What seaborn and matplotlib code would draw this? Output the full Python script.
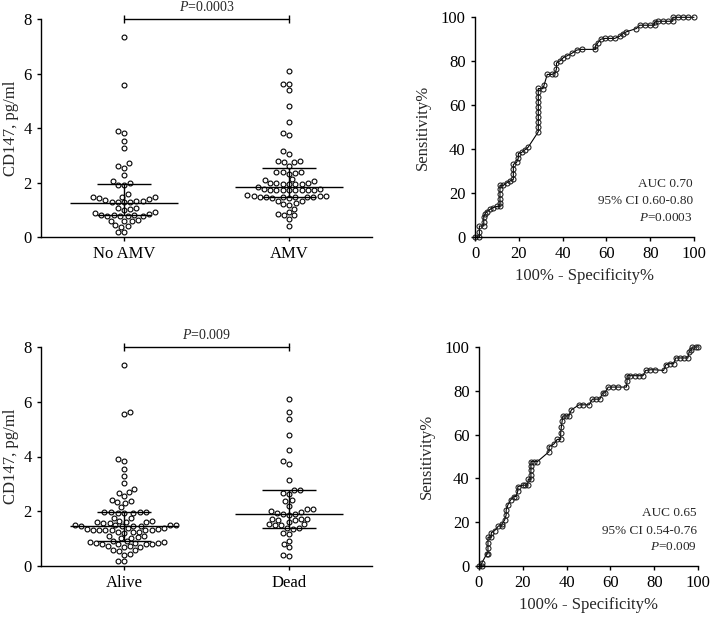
import numpy as np
import pandas as pd
import matplotlib
matplotlib.use("Agg")
import matplotlib.pyplot as plt
import seaborn as sns

# ---------------- data ----------------
cats_top = ["No AMV", "AMV"]
no_amv = [7.35, 5.57, 3.89, 3.81, 3.52, 3.27, 2.70, 2.60, 2.55, 2.27, 2.06,
          1.99, 1.92, 1.90, 1.56, 1.48,
          1.48, 1.42, 1.38, 1.33, 1.30, 1.27, 1.28, 1.30, 1.32, 1.35, 1.46,
          1.07, 1.01, 0.99, 1.05,
          0.90, 0.84, 0.82, 0.81, 0.78, 0.76, 0.76, 0.78, 0.80, 0.88,
          0.62, 0.57, 0.60, 0.60, 0.45, 0.42, 0.38, 0.18, 0.18]
amv = [6.10, 5.62, 5.62, 5.40, 4.79, 4.22, 3.83, 3.75, 3.14, 3.04,
       2.80, 2.78, 2.76, 2.74, 2.62,
       2.40, 2.40, 2.38, 2.35, 2.32,
       2.14, 2.10, 2.06,
       2.00, 1.97, 1.96, 1.95, 1.95, 1.96, 1.99,
       1.83,
       1.75, 1.73, 1.72, 1.71, 1.71, 1.71, 1.71, 1.72, 1.73, 1.75,
       1.52, 1.52, 1.48, 1.45, 1.45, 1.44, 1.44, 1.45, 1.46, 1.46, 1.49, 1.53,
       1.33, 1.25, 1.21, 1.33,
       1.04, 1.16,
       0.85, 0.79, 0.67, 0.79, 0.92,
       0.42]
median_top = [1.25, 1.85]
q1_top = [0.80, 1.45]
q3_top = [1.96, 2.52]
p_top = "0.0003"

cats_bot = ["Alive", "Dead"]
alive = [7.35, 5.63, 5.57, 3.91, 3.82, 3.54, 3.30, 3.05, 2.81, 2.72, 2.68, 2.57,
         2.42, 2.36, 2.32, 2.30, 2.14,
         1.99, 1.96, 1.95, 1.95, 1.95, 1.96, 1.99,
         1.77, 1.75,
         1.64, 1.60, 1.58, 1.58, 1.60, 1.62, 1.66,
         1.48, 1.48, 1.47, 1.47, 1.46, 1.48, 1.48, 1.47,
         1.40, 1.36, 1.33, 1.31, 1.30, 1.30, 1.31, 1.33, 1.36, 1.40,
         1.25, 1.24, 1.26, 1.22,
         1.08, 1.04, 1.02, 1.05, 1.08,
         0.90, 0.86, 0.84, 0.82, 0.82, 0.80, 0.82, 0.84, 0.84, 0.86, 0.90,
         0.72, 0.70, 0.70, 0.74,
         0.58, 0.55, 0.60,
         0.42, 0.44,
         0.20, 0.20]
dead = [6.10, 5.61, 5.38, 4.79, 4.22, 3.83, 3.73, 3.13,
        2.79, 2.77, 2.68, 2.62,
        2.40, 2.39,
        2.21, 2.07, 2.07, 2.02,
        1.96, 1.93, 1.90, 1.87, 1.90,
        1.72, 1.70, 1.68, 1.68, 1.72, 1.62,
        1.52, 1.50, 1.53, 1.48,
        1.38, 1.40, 1.35,
        1.22, 1.18,
        0.93, 0.79, 0.68,
        0.41, 0.37]
median_bot = [1.47, 1.90]
q1_bot = [0.90, 1.40]
q3_bot = [1.98, 2.76]
p_bot = "0.009"

roc1_fpr = [0, 2, 2, 2, 4, 4, 4, 4.6, 5.4, 6.9, 8.4, 9.9, 11.4, 11.4, 11.4, 11.4, 11.4, 11.4,
            13, 14.5, 16, 17.5, 17.5, 17.5, 17.5, 19, 19.8, 19.8, 21.3, 22.8, 24.3,
            28.9, 28.9, 28.9, 28.9, 28.9, 28.9, 28.9, 28.9, 28.9, 28.9,
            31, 31.5, 33, 35, 36.5, 37.2, 37.2, 39, 40.4, 41.9, 44.2, 46.5, 48.7,
            55, 55, 56.2, 57.4, 59.2, 61.5, 63.8, 66.1, 67.6, 69.1, 73.7,
            75.2, 77.4, 79.7, 82, 82, 83.5, 85.7, 88, 90.3, 90.3, 92.6, 94.8, 97.1, 100]
roc1_tpr = [0, 0, 2.4, 5, 5, 7, 9.3, 10.5, 11.6, 12.6, 13.4, 13.9, 13.9, 15.7, 17.5, 19.4, 21.7, 23.5,
            23.5, 24.7, 25.5, 26.2, 28.5, 30.8, 33, 34, 36, 38, 38.5, 39.7, 40.9,
            47.9, 50.2, 52.5, 54.7, 57, 59.3, 61.5, 63.8, 66.1, 67.6,
            67.5, 69, 74, 74, 74.4, 76.5, 79.2, 80.3, 81.7, 82.4, 83.6, 85.1, 85.4,
            85.4, 87, 88.5, 90, 90.4, 90.4, 90.4, 91.4, 92.6, 93.4, 94.9,
            96.4, 96.4, 96.4, 96.4, 97.9, 98.2, 98.2, 98.2, 98.2, 100, 100, 100, 100, 100]
roc1_text = ["AUC 0.70", "95% CI 0.60-0.80", "0.0003"]

roc2_fpr = [0, 1.2, 1.2, 3.5, 4.1, 4.1, 4.1, 4.1, 5.6, 5.6, 7.1, 8.9, 10.5, 10.5, 11.7, 12.4, 12.4,
            13.2, 14.4, 15.9, 16.9, 17.7, 17.7, 20, 21.1, 22.2, 22.5, 23.7, 23.7, 23.7, 23.7, 23.7,
            24.9, 26.7, 32, 32, 34.2, 35.7, 37.3, 37.3, 37.6, 38, 38.3, 39.5, 41, 42.2,
            45.7, 47.6, 50.3, 51.8, 53.6, 55.2, 56.4, 57.4, 59, 61.2, 63.5, 67.3, 67.6, 67.6,
            69.1, 71.1, 73.1, 74.9, 76.1, 78.3, 80.2, 84.3, 85.3, 87.1, 88.9, 89.8, 91.6, 93.5,
            95.4, 95.9, 97, 97.4, 98.9, 100]
roc2_tpr = [0, 0, 1.2, 5.5, 5.5, 8.1, 10.4, 13.1, 13.1, 15.2, 16.1, 18.3, 18.3, 19.2, 21, 23.3, 25.6,
            27.9, 30.1, 31.7, 31.7, 34.2, 36.2, 36.9, 36.9, 36.9, 39.6, 39.6, 41.6, 43.8, 45.7, 47.7,
            47.7, 47.7, 52.2, 54.5, 55.7, 57.8, 57.8, 60.6, 63.6, 66.4, 68.5, 68.5, 68.5, 71.3,
            73.6, 73.6, 73.6, 76.2, 76.2, 76.2, 79, 79, 81.7, 81.7, 81.7, 81.7, 84.3, 86.9,
            86.9, 86.9, 86.9, 86.9, 89.3, 89.6, 89.6, 89.3, 91.9, 92.4, 92.4, 95, 95, 95,
            95, 97.6, 98.8, 100, 100, 100]
roc2_text = ["AUC 0.65", "95% CI 0.54-0.76", "0.009"]

# ---------------- style ----------------
sns.set_style("ticks")
plt.rcParams["font.family"] = ["Liberation Serif", "DejaVu Serif"]
plt.rcParams["mathtext.fontset"] = "custom"
plt.rcParams["mathtext.it"] = "Liberation Serif:italic"
plt.rcParams["mathtext.rm"] = "Liberation Serif"
plt.rcParams["axes.linewidth"] = 1.0
plt.rcParams["xtick.major.width"] = 1.0
plt.rcParams["ytick.major.width"] = 1.0
plt.rcParams["xtick.major.size"] = 3.2
plt.rcParams["ytick.major.size"] = 3.2
plt.rcParams["xtick.labelsize"] = 12
plt.rcParams["ytick.labelsize"] = 12
plt.rcParams["axes.edgecolor"] = "black"
plt.rcParams["xtick.color"] = "black"
plt.rcParams["ytick.color"] = "black"

W, H = 712, 618
fig = plt.figure(figsize=(W / 100, H / 100), dpi=100)


def px_axes(x0, y_top, x1, y_bot):
    return fig.add_axes([x0 / W, 1 - y_bot / H, (x1 - x0) / W, (y_bot - y_top) / H])


def swarm_panel(ax, cats, groups, med, q1, q3, ptxt):
    df = pd.DataFrame({
        "group": np.repeat(cats, [len(g) for g in groups]),
        "value": np.concatenate([np.asarray(g, float) for g in groups]),
    })
    sns.swarmplot(data=df, x="group", y="value", order=cats, ax=ax,
                  size=3.5, color="white", edgecolor="black", linewidth=0.8,
                  zorder=2)
    for i, (m, a, b) in enumerate(zip(med, q1, q3)):
        ax.hlines(m, i - 0.33, i + 0.33, color="black", lw=1.0, zorder=4)
        ax.hlines([a, b], i - 0.165, i + 0.165, color="black", lw=1.0, zorder=4)
        ax.vlines(i, a, b, color="black", lw=1.0, zorder=4)
    ax.set_xlim(-0.503, 1.503)
    ax.set_ylim(0, 8)
    ax.set_yticks([0, 2, 4, 6, 8])
    ax.set_xlabel("")
    ax.set_ylabel("CD147, pg/ml", fontsize=12, labelpad=3)
    # significance bracket
    ax.plot([0, 1], [8, 8], color="black", lw=1.0, clip_on=False, zorder=5)
    ax.vlines([0, 1], 7.86, 8.14, color="black", lw=1.0, clip_on=False, zorder=5)
    ax.text(0.5, 8.45, r"$P$=" + ptxt, ha="center", va="center", fontsize=10)
    sns.despine(ax=ax)


def roc_panel(ax, fpr, tpr, texts):
    sns.lineplot(x=fpr, y=tpr, sort=False, estimator=None, ax=ax,
                 color="black", lw=0.8, marker="o", markersize=3.6,
                 markerfacecolor="none", markeredgecolor="#1a1a1a",
                 markeredgewidth=0.75, clip_on=False)
    ax.set_xlim(0, 100)
    ax.set_ylim(0, 100)
    ax.set_xticks(range(0, 101, 20))
    ax.set_yticks(range(0, 101, 20))
    ax.set_xlabel("100% - Specificity%", fontsize=12, labelpad=4)
    ax.set_ylabel("Sensitivity%", fontsize=12, labelpad=7)
    ax.text(99.5, 24.2, texts[0], ha="right", va="center", fontsize=9.5)
    ax.text(99.5, 16.2, texts[1], ha="right", va="center", fontsize=9.5)
    ax.text(99.5, 8.6, r"$P$=" + texts[2], ha="right", va="center", fontsize=9.5)
    sns.despine(ax=ax)


ax1 = px_axes(41, 19, 372, 237)
swarm_panel(ax1, cats_top, [no_amv, amv], median_top, q1_top, q3_top, p_top)

ax2 = px_axes(475, 17.3, 694, 237)
roc_panel(ax2, roc1_fpr, roc1_tpr, roc1_text)

ax3 = px_axes(41, 347, 372, 566)
swarm_panel(ax3, cats_bot, [alive, dead], median_bot, q1_bot, q3_bot, p_bot)

ax4 = px_axes(479, 347, 698, 566)
roc_panel(ax4, roc2_fpr, roc2_tpr, roc2_text)

fig.savefig("out.png", dpi=100, facecolor="white")
